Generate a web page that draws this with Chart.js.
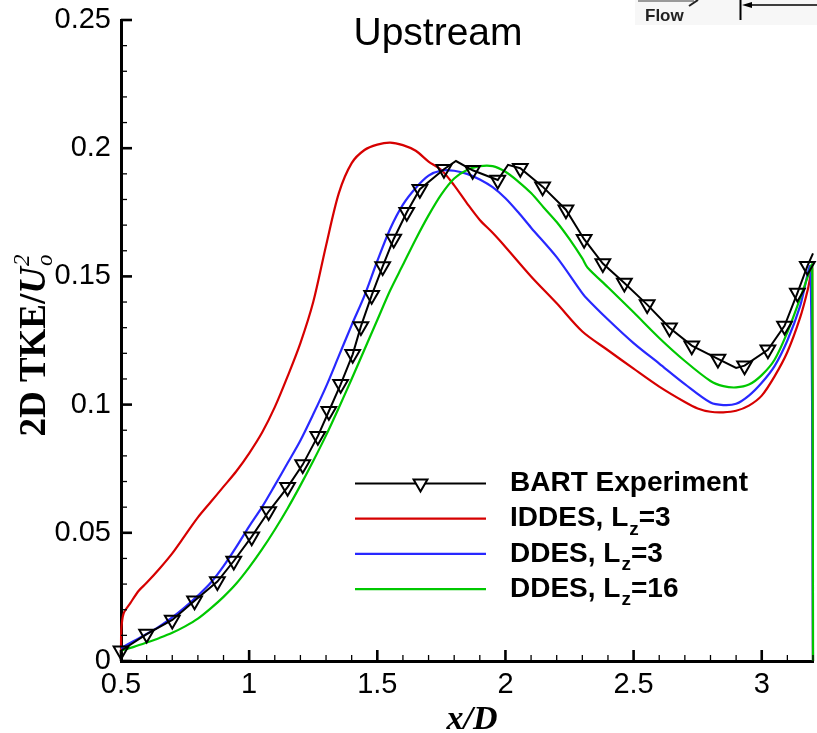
<!DOCTYPE html>
<html>
<head>
<meta charset="utf-8">
<script src="https://cdn.jsdelivr.net/npm/chart.js@4.4.1/dist/chart.umd.min.js"></script>
<style>
  html, body { margin: 0; padding: 0; background: #fff; }
  #wrap { width: 817px; height: 733px; position: relative; }
</style>
</head>
<body>
<div id="wrap"><canvas id="c" width="817" height="733"></canvas></div>
<script>
// Axis ticks
const xTickValues = [0.5, 1, 1.5, 2, 2.5, 3];
const xTickLabels = ['0.5', '1', '1.5', '2', '2.5', '3'];
const yTickValues = [0, 0.05, 0.1, 0.15, 0.2, 0.25];
const yTickLabels = ['0', '0.05', '0.1', '0.15', '0.2', '0.25'];

// BART experiment: symbol stations
const bartX = [0.5, 0.6, 0.7, 0.787, 0.876, 0.94, 1.01, 1.076, 1.15, 1.209, 1.268, 1.311, 1.357, 1.404, 1.436, 1.478, 1.521, 1.564, 1.615, 1.666, 1.76, 1.872, 1.97, 2.058, 2.145, 2.236, 2.307, 2.38, 2.464, 2.553, 2.64, 2.727, 2.829, 2.933, 3.024, 3.089, 3.139, 3.178];
const bartY = [0.004, 0.0105, 0.016, 0.0235, 0.031, 0.039, 0.0485, 0.0583, 0.0678, 0.0766, 0.0877, 0.0974, 0.1079, 0.1196, 0.1305, 0.1426, 0.1539, 0.1646, 0.175, 0.184, 0.1918, 0.1914, 0.1876, 0.1922, 0.185, 0.176, 0.1645, 0.155, 0.1474, 0.139, 0.130, 0.123, 0.1178, 0.1152, 0.1214, 0.1307, 0.1435, 0.154];
// BART experiment: extra line stations between symbols
const bartLineX = [1.807, 2.01, 2.90, 3.2];
const bartLineY = [0.195, 0.1935, 0.1143, 0.159];

// IDDES, Lz=3
const iddesX = [0.5, 0.501, 0.51, 0.537, 0.57, 0.6, 0.65, 0.7, 0.75, 0.8, 0.85, 0.9, 0.95, 1.0, 1.05, 1.1, 1.15, 1.2, 1.25, 1.3, 1.35, 1.4, 1.45, 1.5, 1.55, 1.6, 1.65, 1.7, 1.75, 1.8, 1.85, 1.9, 1.95, 2.0, 2.1, 2.2, 2.3, 2.4, 2.5, 2.6, 2.7, 2.75, 2.8, 2.85, 2.9, 2.95, 3.0, 3.05, 3.1, 3.15, 3.18, 3.197, 3.2];
const iddesY = [0.003, 0.012, 0.0185, 0.0227, 0.0275, 0.0305, 0.036, 0.042, 0.049, 0.056, 0.062, 0.068, 0.074, 0.081, 0.089, 0.099, 0.111, 0.124, 0.140, 0.162, 0.1825, 0.1942, 0.1993, 0.2014, 0.2022, 0.2012, 0.199, 0.1948, 0.1915, 0.1855, 0.1785, 0.172, 0.167, 0.1615, 0.150, 0.1395, 0.1285, 0.1212, 0.114, 0.107, 0.101, 0.0985, 0.0972, 0.097, 0.0976, 0.0996, 0.1035, 0.111, 0.1205, 0.134, 0.145, 0.153, 0];

// DDES, Lz=3
const ddes3X = [0.5, 0.55, 0.6, 0.65, 0.7, 0.75, 0.8, 0.85, 0.9, 0.95, 1.0, 1.05, 1.1, 1.15, 1.2, 1.25, 1.3, 1.35, 1.4, 1.45, 1.5, 1.55, 1.6, 1.65, 1.7, 1.75, 1.8, 1.85, 1.9, 1.95, 2.0, 2.05, 2.1, 2.2, 2.29, 2.31, 2.4, 2.5, 2.6, 2.7, 2.8, 2.85, 2.9, 2.95, 3.0, 3.05, 3.1, 3.15, 3.19, 3.2];
const ddes3Y = [0.005, 0.0078, 0.0105, 0.0135, 0.017, 0.021, 0.0255, 0.0305, 0.037, 0.0445, 0.0525, 0.06, 0.0685, 0.0772, 0.086, 0.0962, 0.107, 0.119, 0.131, 0.1425, 0.156, 0.1685, 0.178, 0.1845, 0.1893, 0.1913, 0.1912, 0.19, 0.1878, 0.1848, 0.1805, 0.175, 0.169, 0.1575, 0.1448, 0.1422, 0.1332, 0.124, 0.116, 0.108, 0.1008, 0.0998, 0.1003, 0.1035, 0.1085, 0.115, 0.125, 0.1385, 0.1535, 0];

// DDES, Lz=16
const ddes16X = [0.5, 0.55, 0.6, 0.65, 0.7, 0.75, 0.8, 0.85, 0.9, 0.95, 1.0, 1.05, 1.1, 1.15, 1.2, 1.25, 1.3, 1.35, 1.4, 1.45, 1.5, 1.55, 1.6, 1.65, 1.7, 1.75, 1.8, 1.85, 1.9, 1.95, 2.0, 2.05, 2.1, 2.15, 2.2, 2.25, 2.3, 2.32, 2.4, 2.5, 2.6, 2.7, 2.8, 2.85, 2.9, 2.95, 3.0, 3.05, 3.1, 3.15, 3.18, 3.197, 3.2];
const ddes16Y = [0.004, 0.0055, 0.0072, 0.009, 0.011, 0.0135, 0.0165, 0.0205, 0.025, 0.0302, 0.0365, 0.0435, 0.0512, 0.0595, 0.0685, 0.078, 0.088, 0.0988, 0.110, 0.1215, 0.133, 0.1445, 0.1545, 0.1645, 0.1738, 0.182, 0.1882, 0.1915, 0.193, 0.193, 0.1908, 0.187, 0.1825, 0.1768, 0.1712, 0.1645, 0.157, 0.1535, 0.1458, 0.136, 0.126, 0.117, 0.1092, 0.1072, 0.1067, 0.1078, 0.1115, 0.1175, 0.1282, 0.1415, 0.150, 0.1545, 0];

// Legend texts: [main, subscript, tail]
const legendLabels = [
  ['BART Experiment', '', ''],
  ['IDDES, L', 'z', '=3'],
  ['DDES, L', 'z', '=3'],
  ['DDES, L', 'z', '=16']
];
const chartTitle = 'Upstream';
const xTitle = 'x/D';

const RED = 'rgb(214,0,0)';
const BLUE = 'rgb(40,40,255)';
const GREEN = 'rgb(0,200,0)';
const SANS = "'Liberation Sans', Arial, sans-serif";
const SERIF = "'Liberation Serif', 'Times New Roman', serif";

const pts = (xs, ys) => xs.map((x, i) => ({ x: x, y: ys[i] }));
const bartLine = pts(bartX, bartY).concat(pts(bartLineX, bartLineY)).sort((a, b) => a.x - b.x);

const lineDs = (label, data, color, order) => ({
  label, data, order,
  borderColor: color, borderWidth: 2.2,
  pointRadius: 0, tension: 0.3, fill: false, clip: 6
});

const decor = {
  id: 'decor',
  beforeDraw(chart) {
    const ctx = chart.ctx;
    ctx.save();
    ctx.fillStyle = '#fff';
    ctx.fillRect(0, 0, chart.width, chart.height);
    // inset sketch backdrop (top right)
    ctx.fillStyle = '#f7f7f7';
    ctx.fillRect(635, 0, 182, 25);
    ctx.restore();
  },
  afterDraw(chart) {
    const ctx = chart.ctx;
    const xs = chart.scales.x, ys = chart.scales.y;
    const a = chart.chartArea;
    ctx.save();
    ctx.strokeStyle = '#000';
    ctx.lineCap = 'butt';

    // inward tick marks
    const tick = (x1, y1, x2, y2, w) => {
      ctx.lineWidth = w; ctx.beginPath(); ctx.moveTo(x1, y1); ctx.lineTo(x2, y2); ctx.stroke();
    };
    xTickValues.forEach(v => { const p = xs.getPixelForValue(v); tick(p, a.bottom, p, a.bottom - 11, 2.6); });
    for (let k = 6; k <= 32; k++) {
      if (k % 5 === 0) continue;
      const p = xs.getPixelForValue(k / 10);
      tick(p, a.bottom, p, a.bottom - 6, 1.3);
    }
    yTickValues.forEach(v => { const p = ys.getPixelForValue(v); tick(a.left, p, a.left + 11, p, 2.6); });
    for (let k = 1; k < 25; k++) {
      if (k % 5 === 0) continue;
      const p = ys.getPixelForValue(k / 100);
      tick(a.left, p, a.left + 6, p, 1.3);
    }

    ctx.fillStyle = '#000';
    // chart title
    ctx.font = '39px ' + SANS;
    ctx.textAlign = 'center';
    ctx.textBaseline = 'alphabetic';
    ctx.fillText(chartTitle, 438, 45);

    // x axis title
    ctx.font = 'italic bold 34px ' + SERIF;
    ctx.fillText(xTitle, 472, 729);

    // y axis title: 2D TKE/U_o^2, rotated
    ctx.save();
    ctx.translate(45, 346);
    ctx.rotate(-Math.PI / 2);
    ctx.textAlign = 'left';
    const fMain = 'bold 37px ' + SERIF, fU = 'italic bold 37px ' + SERIF, fSmall = 'italic 23px ' + SERIF;
    ctx.font = fMain; const w1 = ctx.measureText('2D TKE/').width;
    ctx.font = fU; const w2 = ctx.measureText('U').width;
    ctx.font = fSmall; const w3 = ctx.measureText('2').width;
    let x0 = -(w1 + w2 + w3) / 2;
    ctx.font = fMain; ctx.fillText('2D TKE/', x0, 0);
    ctx.font = fU; ctx.fillText('U', x0 + w1, 0);
    ctx.font = fSmall;
    ctx.fillText('2', x0 + w1 + w2 + 1, -16);
    ctx.fillText('o', x0 + w1 + w2 + 1, 7);
    ctx.restore();

    // legend
    const colors = ['#000', RED, BLUE, GREEN];
    legendLabels.forEach((parts, i) => {
      const y = 483.5 + i * 35.2;
      ctx.strokeStyle = colors[i];
      ctx.lineWidth = 2.2;
      ctx.beginPath(); ctx.moveTo(355, y); ctx.lineTo(486, y); ctx.stroke();
      if (i === 0) {
        ctx.fillStyle = '#fff';
        ctx.strokeStyle = '#000';
        ctx.lineWidth = 2;
        Chart.helpers.drawPoint(ctx, { pointStyle: 'triangle', rotation: 180, radius: 8, borderWidth: 2 }, 420.5, y);
      }
      ctx.fillStyle = '#000';
      ctx.textAlign = 'left';
      ctx.textBaseline = 'middle';
      ctx.font = 'bold 28px ' + SANS;
      let tx = 510;
      ctx.fillText(parts[0], tx, y);
      tx += ctx.measureText(parts[0]).width;
      if (parts[1]) {
        ctx.font = 'bold 19px ' + SANS;
        ctx.fillText(parts[1], tx + 1, y + 11);
        tx += ctx.measureText(parts[1]).width + 1;
        ctx.font = 'bold 28px ' + SANS;
        ctx.fillText(parts[2], tx, y);
      }
    });

    // inset sketch: flow arrow and wall marker
    ctx.textBaseline = 'alphabetic';
    ctx.strokeStyle = '#9a9a9a'; ctx.lineWidth = 2;
    ctx.beginPath(); ctx.moveTo(638, 1); ctx.lineTo(694, 1); ctx.stroke();
    ctx.strokeStyle = '#222'; ctx.lineWidth = 2;
    ctx.beginPath(); ctx.moveTo(689, 6); ctx.lineTo(698, 0); ctx.stroke();
    ctx.fillStyle = '#222';
    ctx.font = 'bold 17px ' + SANS;
    ctx.fillText('Flow', 645, 21);
    ctx.strokeStyle = '#000'; ctx.lineWidth = 2;
    ctx.beginPath(); ctx.moveTo(740.5, 0); ctx.lineTo(740.5, 20); ctx.stroke();
    ctx.lineWidth = 1.5;
    ctx.beginPath(); ctx.moveTo(748, 5); ctx.lineTo(817, 5); ctx.stroke();
    ctx.fillStyle = '#000';
    ctx.beginPath(); ctx.moveTo(742, 5); ctx.lineTo(752, 2); ctx.lineTo(752, 8); ctx.closePath(); ctx.fill();
    ctx.restore();
  }
};

new Chart(document.getElementById('c'), {
  type: 'line',
  data: {
    datasets: [
      { label: 'BART Experiment', data: bartLine, order: 0, borderColor: '#000', borderWidth: 2,
        pointRadius: 0, tension: 0, fill: false, clip: 6 },
      { label: 'BART Experiment symbols', data: pts(bartX, bartY), order: 0, showLine: false,
        pointStyle: 'triangle', rotation: 180, pointRadius: 8.5, borderColor: '#000',
        backgroundColor: 'rgba(255,255,255,0)', borderWidth: 2, clip: 12 },
      lineDs('IDDES, Lz=3', pts(iddesX, iddesY), RED, 3),
      lineDs('DDES, Lz=3', pts(ddes3X, ddes3Y), BLUE, 2),
      lineDs('DDES, Lz=16', pts(ddes16X, ddes16Y), GREEN, 1)
    ]
  },
  options: {
    responsive: false,
    devicePixelRatio: 1,
    animation: false,
    events: [],
    layout: { autoPadding: false, padding: { top: 20, right: 4, left: 0, bottom: 0 } },
    plugins: { legend: { display: false }, tooltip: { enabled: false }, title: { display: false } },
    scales: {
      x: {
        type: 'linear', min: 0.5, max: 3.2,
        grid: { display: false, drawTicks: false },
        border: { display: true, color: '#000', width: 3 },
        afterBuildTicks: s => { s.ticks = xTickValues.map(v => ({ value: v })); },
        afterFit: s => { s.height = 72; s.paddingLeft = 0; s.paddingRight = 0; },
        ticks: { padding: 7, color: '#000', font: { family: SANS, size: 29 },
                 maxRotation: 0, autoSkip: false, callback: (v, i) => xTickLabels[i] }
      },
      y: {
        type: 'linear', min: 0, max: 0.25,
        grid: { display: false, drawTicks: false },
        border: { display: true, color: '#000', width: 3 },
        afterBuildTicks: s => { s.ticks = yTickValues.map(v => ({ value: v })); },
        afterFit: s => { s.width = 121; s.paddingTop = 0; s.paddingBottom = 0; },
        ticks: { padding: 10, color: '#000', font: { family: SANS, size: 29 },
                 autoSkip: false, callback: (v, i) => yTickLabels[i] }
      }
    }
  },
  plugins: [decor]
});
</script>
</body>
</html>
